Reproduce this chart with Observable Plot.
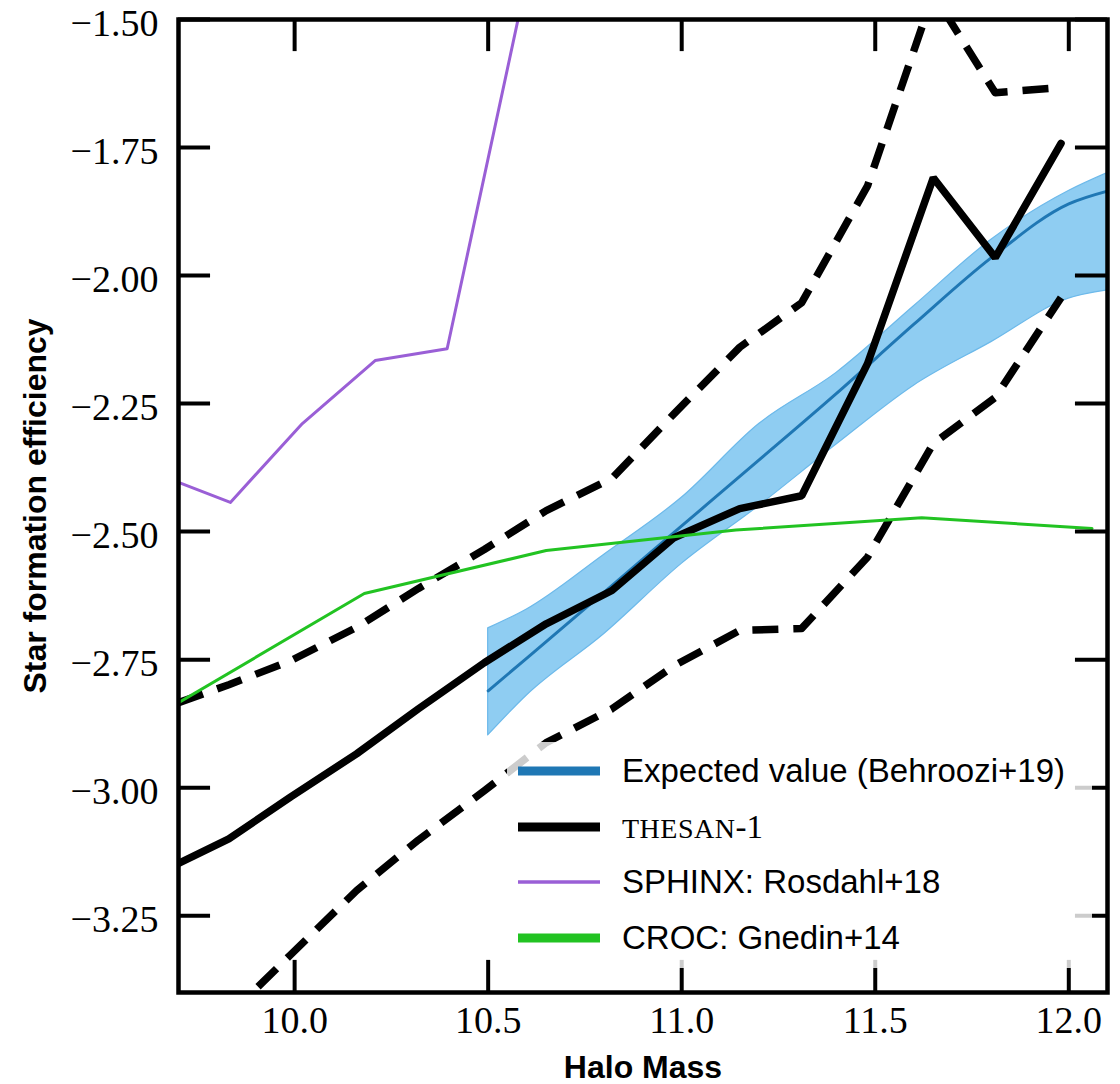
<!DOCTYPE html>
<html>
<head>
<meta charset="utf-8">
<script src="https://cdn.jsdelivr.net/npm/d3@7"></script>
<script src="https://cdn.jsdelivr.net/npm/@observablehq/plot@0.6"></script>
<style>
  html, body { margin: 0; padding: 0; background: #fff; }
  #chart { position: relative; width: 1120px; height: 1084px; }
  .legend { position: absolute; left: 507px; top: 742px; width: 585px; height: 226px;
            background: rgba(255, 255, 255, 0.8); }
  .row { position: absolute; left: 0; height: 40px; width: 585px; }
  .row svg { position: absolute; left: 11px; top: 10px; }
  .row span.lab { position: absolute; left: 115px; top: 0; line-height: 40px; white-space: nowrap;
                  font-family: "Liberation Sans", Arial, sans-serif; font-size: 33px; color: #000; }
  .row span.serif { font-family: "Liberation Serif", serif; }
  .row span.caps { font-size: 28px; letter-spacing: 0.5px; }
</style>
</head>
<body>
<div id="chart"></div>
<script>
// Halo-mass bins of the THESAN-1 relation
const thesanMass   = [9.70, 9.83, 9.99, 10.16, 10.32, 10.49, 10.65, 10.82, 10.98, 11.15, 11.31, 11.48, 11.65, 11.81, 11.98];
const thesanMedian = [-3.148, -3.100, -3.018, -2.934, -2.846, -2.756, -2.680, -2.615, -2.512, -2.455, -2.430, -2.172, -1.809, -1.965, -1.742];
const thesanUpper  = [-2.834, -2.799, -2.752, -2.687, -2.611, -2.535, -2.459, -2.396, -2.270, -2.140, -2.053, -1.825, -1.450, -1.643, -1.633];
// lower scatter starts one bin later
const thesanLowerMass = [9.83, 9.99, 10.16, 10.32, 10.49, 10.65, 10.82, 10.98, 11.15, 11.31, 11.48, 11.65, 11.81, 11.98];
const thesanLower     = [-3.445, -3.326, -3.201, -3.102, -3.006, -2.912, -2.846, -2.762, -2.693, -2.689, -2.550, -2.328, -2.238, -2.043];

// Behroozi+19 expected value with its uncertainty band
const behrooziMass   = [10.5, 10.6, 10.8, 11.0, 11.2, 11.4, 11.6, 11.8, 12.0, 12.1];
const behrooziMedian = [-2.811, -2.747, -2.618, -2.489, -2.360, -2.230, -2.095, -1.965, -1.860, -1.835];
const behrooziUpper  = [-2.689, -2.652, -2.545, -2.434, -2.290, -2.190, -2.060, -1.930, -1.835, -1.800];
const behrooziLower  = [-2.898, -2.820, -2.700, -2.563, -2.450, -2.330, -2.215, -2.130, -2.045, -2.029];

// SPHINX (Rosdahl+18)
const sphinxMass = [9.70, 9.834, 10.02, 10.208, 10.394, 10.58];
const sphinxEff  = [-2.404, -2.443, -2.289, -2.166, -2.143, -1.49];

// CROC (Gnedin+14)
const crocMass = [9.70, 10.18, 10.65, 11.14, 11.62, 12.06];
const crocEff  = [-2.834, -2.621, -2.537, -2.497, -2.473, -2.494];

// Axis ticks
const xTicks = [10.0, 10.5, 11.0, 11.5, 12.0];
const yTicks = [-1.50, -1.75, -2.00, -2.25, -2.50, -2.75, -3.00, -3.25];

const xDomain = [9.7, 12.1];
const yDomain = [-3.4, -1.5];

const thesan = thesanMass.map((m, i) => ({m, med: thesanMedian[i], hi: thesanUpper[i]}));
const thesanLo = thesanLowerMass.map((m, i) => ({m, lo: thesanLower[i]}));
const behroozi = behrooziMass.map((m, i) => ({m, med: behrooziMedian[i], hi: behrooziUpper[i], lo: behrooziLower[i]}));
const sphinx = sphinxMass.map((m, i) => ({m, v: sphinxEff[i]}));
const croc = crocMass.map((m, i) => ({m, v: crocEff[i]}));

// inward tick length, as a share of each axis span
const xTickLen = (yDomain[1] - yDomain[0]) * 0.033;
const yTickLen = (xDomain[1] - xDomain[0]) * 0.0345;

const minus = (s) => s.replace("-", "\u2212");
const dash = {stroke: "#000", strokeWidth: 7.5, strokeDasharray: "26,15", strokeLinecap: "butt", strokeLinejoin: "round", clip: true};
const tickStyle = {stroke: "#000", strokeWidth: 4, strokeLinecap: "butt"};
const titleFont = {fontFamily: "'Liberation Sans', Arial, sans-serif", fontWeight: "bold"};

const chart = Plot.plot({
  width: 1120,
  height: 1084,
  marginLeft: 178,
  marginRight: 13,
  marginTop: 19,
  marginBottom: 92,
  x: {domain: xDomain},
  y: {domain: yDomain},
  style: {fontFamily: "'Liberation Serif', serif", fontSize: "38px", color: "#000", background: "#fff"},
  marks: [
    Plot.areaY(behroozi, {x: "m", y1: "lo", y2: "hi", fill: "#8fcdf2", stroke: "#6cb9ea", strokeWidth: 1.2, curve: "monotone-x", clip: true}),
    Plot.line(behroozi, {x: "m", y: "med", stroke: "#1f77b4", strokeWidth: 3, curve: "monotone-x", clip: true}),
    Plot.line(thesan, {x: "m", y: "hi", ...dash}),
    Plot.line(thesanLo, {x: "m", y: "lo", ...dash}),
    Plot.line(thesan, {x: "m", y: "med", stroke: "#000", strokeWidth: 7.5, strokeLinejoin: "miter", clip: true}),
    Plot.line(sphinx, {x: "m", y: "v", stroke: "#9a5fd6", strokeWidth: 3, clip: true}),
    Plot.line(croc, {x: "m", y: "v", stroke: "#22c322", strokeWidth: 3, clip: true}),
    Plot.frame({stroke: "#000", strokeWidth: 4.5}),
    // inward ticks on all four sides
    Plot.ruleX(xTicks, {x: d => d, y1: yDomain[0], y2: yDomain[0] + xTickLen, ...tickStyle}),
    Plot.ruleX(xTicks, {x: d => d, y1: yDomain[1], y2: yDomain[1] - xTickLen, ...tickStyle}),
    Plot.ruleY(yTicks, {y: d => d, x1: xDomain[0], x2: xDomain[0] + yTickLen, ...tickStyle}),
    Plot.ruleY(yTicks, {y: d => d, x1: xDomain[1], x2: xDomain[1] - yTickLen, ...tickStyle}),
    Plot.axisX(xTicks, {tickSize: 0, tickPadding: 14, tickFormat: d => d.toFixed(1), label: null}),
    Plot.axisY(yTicks, {tickSize: 0, tickPadding: 20, dy: 4, tickFormat: d => minus(d.toFixed(2)), label: null}),
    Plot.text(["Halo Mass"], {text: d => d, frameAnchor: "bottom", lineAnchor: "middle", textAnchor: "middle", dy: 75, fontSize: 32, ...titleFont}),
    Plot.text(["Star formation efficiency"], {text: d => d, frameAnchor: "left", textAnchor: "middle", lineAnchor: "middle", dx: -143, rotate: -90, fontSize: 32, ...titleFont})
  ]
});

const root = document.getElementById("chart");
root.appendChild(chart);

// legend
const legendItems = [
  {html: "Expected value (Behroozi+19)", color: "#1f77b4", width: 9, cls: ""},
  {html: '<span class="caps">THESAN</span>-1', color: "#000", width: 9, cls: "serif"},
  {html: "SPHINX: Rosdahl+18", color: "#9a5fd6", width: 3.5, cls: ""},
  {html: "CROC: Gnedin+14", color: "#22c322", width: 9, cls: ""}
];
const rowCenters = [29, 85, 140, 196];
const legend = document.createElement("div");
legend.className = "legend";
legendItems.forEach((item, i) => {
  const row = document.createElement("div");
  row.className = "row";
  row.style.top = (rowCenters[i] - 20) + "px";
  row.innerHTML =
    `<svg width="82" height="20"><line x1="0" x2="82" y1="10" y2="10" stroke="${item.color}" stroke-width="${item.width}"/></svg>` +
    `<span class="lab ${item.cls}">${item.html}</span>`;
  legend.appendChild(row);
});
root.appendChild(legend);
</script>
</body>
</html>
